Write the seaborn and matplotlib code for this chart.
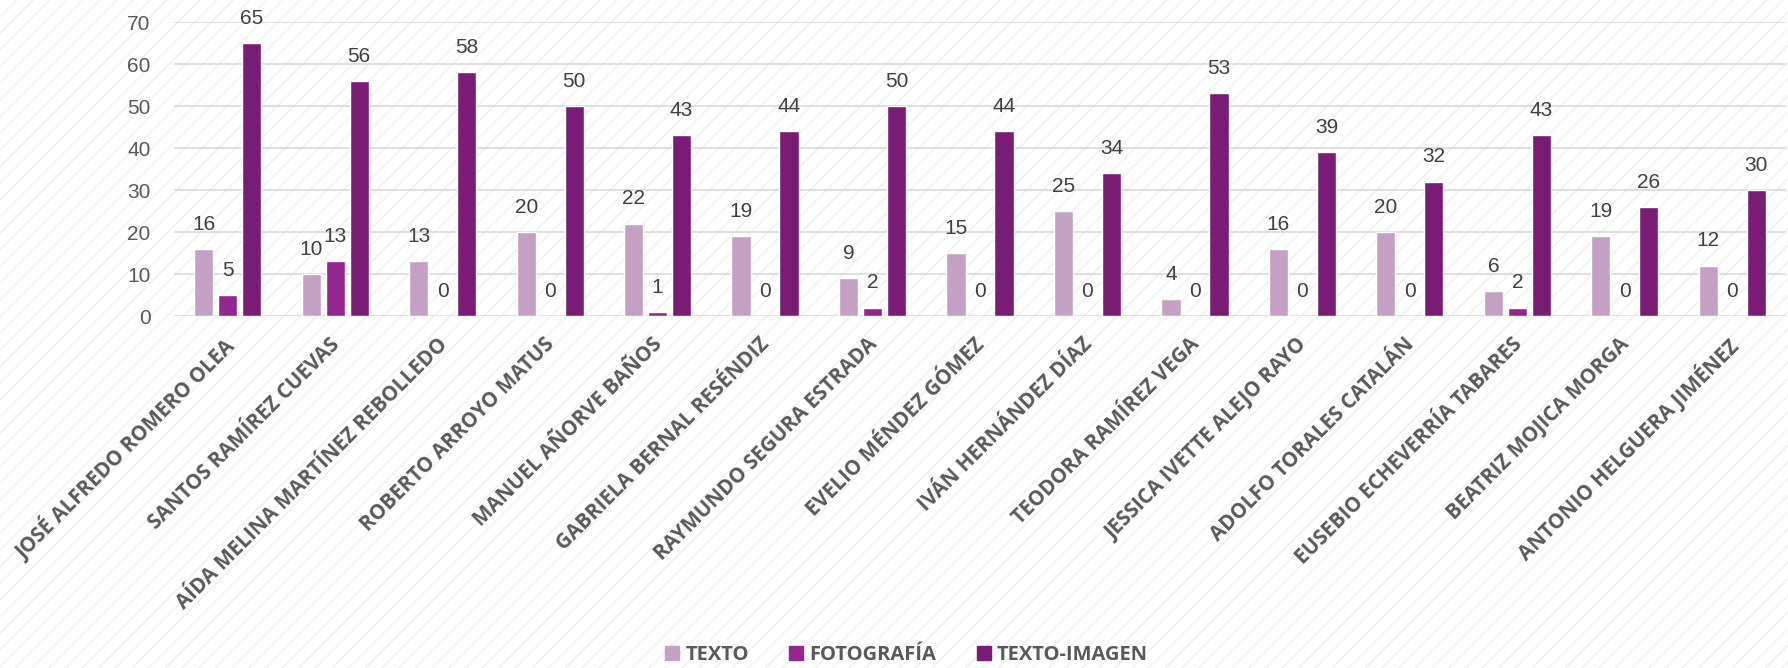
import pandas as pd
import matplotlib.pyplot as plt
import matplotlib.transforms as mtransforms
import seaborn as sns
from matplotlib.patches import Rectangle

# data
names = ["JOSÉ ALFREDO ROMERO OLEA", "SANTOS RAMÍREZ CUEVAS", "AÍDA MELINA MARTÍNEZ REBOLLEDO",
         "ROBERTO ARROYO MATUS", "MANUEL AÑORVE BAÑOS", "GABRIELA BERNAL RESÉNDIZ",
         "RAYMUNDO SEGURA ESTRADA", "EVELIO MÉNDEZ GÓMEZ", "IVÁN HERNÁNDEZ DÍAZ",
         "TEODORA RAMÍREZ VEGA", "JESSICA IVETTE ALEJO RAYO", "ADOLFO TORALES CATALÁN",
         "EUSEBIO ECHEVERRÍA TABARES", "BEATRIZ MOJICA MORGA", "ANTONIO HELGUERA JIMÉNEZ"]
texto = [16, 10, 13, 20, 22, 19, 9, 15, 25, 4, 16, 20, 6, 19, 12]
fotografia = [5, 13, 0, 0, 1, 0, 2, 0, 0, 0, 0, 0, 2, 0, 0]
texto_imagen = [65, 56, 58, 50, 43, 44, 50, 44, 34, 53, 39, 32, 43, 26, 30]
series = ["TEXTO", "FOTOGRAFÍA", "TEXTO-IMAGEN"]
colors = ["#C4A1C4", "#93278F", "#7B1C74"]

df = pd.DataFrame({
    "name": names * 3,
    "serie": [series[0]] * 15 + [series[1]] * 15 + [series[2]] * 15,
    "value": texto + fotografia + texto_imagen,
})

sns.set_style("white")
plt.rcParams["font.family"] = ["Open Sans", "DejaVu Sans"]

fig = plt.figure(figsize=(17.88, 6.68), dpi=100)
# light diagonal hatch background
fig.patches.append(Rectangle((0, 0), 1, 1, transform=fig.transFigure, facecolor="white",
                             edgecolor="#f0f0f0", hatch="//", linewidth=0, zorder=-10))
ax = fig.add_axes([174 / 1788, 1 - 316 / 668, (1786 - 174) / 1788, (316 - 22) / 668])
ax.patch.set_alpha(0)

sns.barplot(data=df, x="name", y="value", hue="serie", palette=colors, width=0.67, gap=0.2,
            saturation=1, ax=ax, zorder=3, legend=False)

for cont in ax.containers:
    ax.bar_label(cont, padding=11, fontsize=15, color="#404040", family="Liberation Sans")

ax.set_ylim(0, 70)
ax.set_yticks(range(0, 71, 10))
ax.set_xlim(-0.5, 14.5)
ax.grid(axis="y", color="#d9d9d9", linewidth=1.2, zorder=0)
for s in ax.spines.values():
    s.set_visible(False)
ax.tick_params(axis="y", labelsize=15, colors="#595959", length=0, pad=17)
ax.tick_params(axis="x", length=0, pad=13)
for lab in ax.get_yticklabels():
    lab.set_family("Liberation Sans")
ax.set_xticks(range(15))
ax.set_xticklabels(names, rotation=45, ha="right", rotation_mode="anchor",
                   fontsize=14.8, fontweight="bold", color="#595959")
shift = mtransforms.ScaledTranslation(-0.06, 0, fig.dpi_scale_trans)
for lab in ax.get_xticklabels():
    lab.set_transform(lab.get_transform() + shift)
ax.set_xlabel("")
ax.set_ylabel("")

handles = [Rectangle((0, 0), 1, 1, color=c) for c in colors]
fig.legend(handles, series, loc="center", bbox_to_anchor=(0.507, 1 - 655 / 668), ncol=3,
           frameon=False, prop={"weight": "bold", "size": 14.5}, labelcolor="#595959",
           handlelength=0.7, handleheight=0.7, handletextpad=0.3, columnspacing=2.0)

fig.savefig("out.png", dpi=100)
